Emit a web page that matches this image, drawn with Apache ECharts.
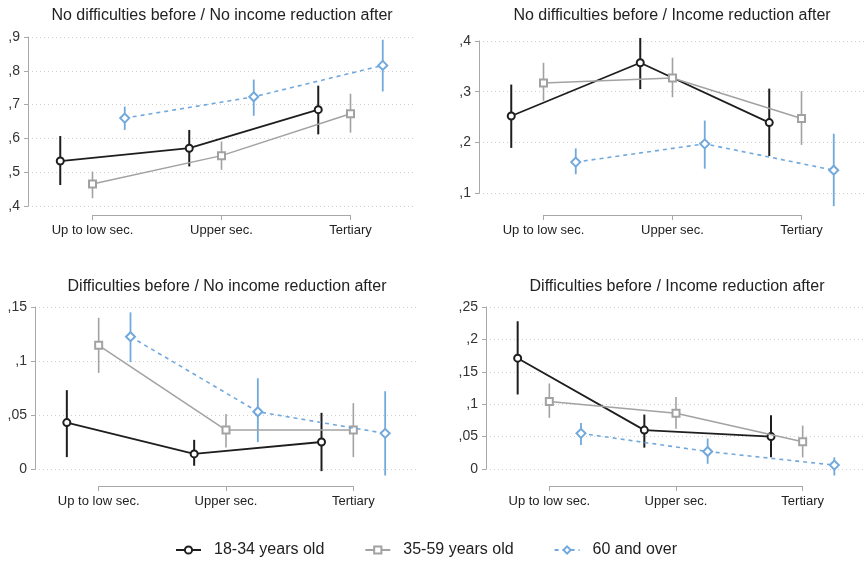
<!DOCTYPE html>
<html>
<head>
<meta charset="utf-8">
<script src="https://cdn.jsdelivr.net/npm/echarts@6/dist/echarts.min.js"></script>
<style>html,body{margin:0;padding:0;background:#fff;}#chart{width:866px;height:567px;}</style>
</head>
<body>
<div id="chart"></div>
<script>
// ---------- data ----------
const categories = ['Up to low sec.', 'Upper sec.', 'Tertiary'];
const groups = ['18-34 years old', '35-59 years old', '60 and over'];
const titles = [
  'No difficulties before / No income reduction after',
  'No difficulties before / Income reduction after',
  'Difficulties before / No income reduction after',
  'Difficulties before / Income reduction after'
];
// y-axis ticks per panel: [min, max, interval]
const yTicks1 = [0.4, 0.9, 0.1];
const yTicks2 = [0.1, 0.4, 0.1];
const yTicks3 = [0, 0.15, 0.05];
const yTicks4 = [0, 0.25, 0.05];

// Panel 1: No difficulties before / No income reduction after
const p1_young = [0.533, 0.571, 0.685];
const p1_young_lo = [0.462, 0.517, 0.612];
const p1_young_hi = [0.607, 0.625, 0.756];
const p1_mid = [0.465, 0.549, 0.673];
const p1_mid_lo = [0.423, 0.507, 0.617];
const p1_mid_hi = [0.502, 0.591, 0.732];
const p1_old = [0.660, 0.723, 0.816];
const p1_old_lo = [0.625, 0.667, 0.739];
const p1_old_hi = [0.694, 0.774, 0.892];

// Panel 2: No difficulties before / Income reduction after
const p2_young = [0.252, 0.357, 0.239];
const p2_young_lo = [0.189, 0.305, 0.173];
const p2_young_hi = [0.314, 0.406, 0.306];
const p2_mid = [0.317, 0.327, 0.247];
const p2_mid_lo = [0.282, 0.289, 0.195];
const p2_mid_hi = [0.357, 0.367, 0.301];
const p2_old = [0.161, 0.197, 0.145];
const p2_old_lo = [0.137, 0.148, 0.074];
const p2_old_hi = [0.188, 0.243, 0.217];

// Panel 3: Difficulties before / No income reduction after
const p3_young = [0.043, 0.014, 0.025];
const p3_young_lo = [0.011, 0.003, -0.002];
const p3_young_hi = [0.073, 0.027, 0.052];
const p3_mid = [0.1145, 0.036, 0.036];
const p3_mid_lo = [0.089, 0.020, 0.011];
const p3_mid_hi = [0.140, 0.051, 0.061];
const p3_old = [0.1225, 0.053, 0.033];
const p3_old_lo = [0.099, 0.025, -0.006];
const p3_old_hi = [0.145, 0.084, 0.072];

// Panel 4: Difficulties before / Income reduction after
const p4_young = [0.171, 0.060, 0.050];
const p4_young_lo = [0.115, 0.033, 0.018];
const p4_young_hi = [0.228, 0.084, 0.083];
const p4_mid = [0.104, 0.086, 0.042];
const p4_mid_lo = [0.079, 0.062, 0.018];
const p4_mid_hi = [0.132, 0.111, 0.067];
const p4_old = [0.055, 0.027, 0.006];
const p4_old_lo = [0.037, 0.008, -0.010];
const p4_old_hi = [0.071, 0.047, 0.018];

// ---------- styling / layout ----------
const FONT = 'Liberation Sans, Arial, Helvetica, sans-serif';
const W = 866;
const groupStyles = [
  { color: '#1e1e1e', symbol: 'emptyCircle', size: 7, lw: 1.8, ew: 2.0, dash: 'solid', dodge: -0.25 },
  { color: '#a2a2a2', symbol: 'emptyRect', size: 7, lw: 1.5, ew: 1.6, dash: 'solid', dodge: 0 },
  { color: '#72a9dd', symbol: 'emptyDiamond', size: 9, lw: 1.6, ew: 1.8, dash: [4, 4], dodge: 0.25 }
];
const panels = [
  { ticks: yTicks1, left: 28, right: W - 415, top: 37, height: 169, axisY: 215,
    data: [[p1_young, p1_young_lo, p1_young_hi], [p1_mid, p1_mid_lo, p1_mid_hi], [p1_old, p1_old_lo, p1_old_hi]],
    titleX: 217, titleY: 3 },
  { ticks: yTicks2, left: 479, right: 0, top: 41, height: 152, axisY: 215,
    data: [[p2_young, p2_young_lo, p2_young_hi], [p2_mid, p2_mid_lo, p2_mid_hi], [p2_old, p2_old_lo, p2_old_hi]],
    titleX: 667, titleY: 3 },
  { ticks: yTicks3, left: 35, right: W - 417, top: 307, height: 162, axisY: 486,
    data: [[p3_young, p3_young_lo, p3_young_hi], [p3_mid, p3_mid_lo, p3_mid_hi], [p3_old, p3_old_lo, p3_old_hi]],
    titleX: 222, titleY: 274 },
  { ticks: yTicks4, left: 486, right: 0, top: 307, height: 162, axisY: 486,
    data: [[p4_young, p4_young_lo, p4_young_hi], [p4_mid, p4_mid_lo, p4_mid_hi], [p4_old, p4_old_lo, p4_old_hi]],
    titleX: 672, titleY: 274 }
];

function fmtTick(v) {
  const r = Math.round(v * 1000) / 1000;
  if (r === 0) return '0';
  return String(r).replace(/^0\./, ',').replace('.', ',');
}

const option = {
  animation: false,
  backgroundColor: '#ffffff',
  title: [], grid: [], xAxis: [], yAxis: [], series: [],
  legend: {
    bottom: 4, left: 170, itemWidth: 25, itemHeight: 9, itemGap: 40,
    data: groups.map(g => ({ name: g })),
    textStyle: { fontFamily: FONT, fontSize: 16, color: '#222', padding: [0, 0, 0, 8] },
    inactiveColor: '#ccc'
  }
};

panels.forEach((p, pi) => {
  option.title.push({
    text: titles[pi], left: p.titleX, top: p.titleY, textAlign: 'center',
    textStyle: { fontFamily: FONT, fontSize: 16, fontWeight: 'normal', color: '#222' }
  });
  // main plot grid
  option.grid.push({ left: p.left, right: p.right, top: p.top, height: p.height, containLabel: false });
  const gMain = option.grid.length - 1;
  option.xAxis.push({ gridIndex: gMain, type: 'value', min: 0.5, max: 3.5, show: false });
  option.yAxis.push({
    gridIndex: gMain, type: 'value', min: p.ticks[0], max: p.ticks[1], interval: p.ticks[2],
    axisLine: { show: true, lineStyle: { color: '#a8a8a8', width: 1 } },
    axisTick: { show: true, length: 4, lineStyle: { color: '#a8a8a8' } },
    axisLabel: { formatter: fmtTick, fontFamily: FONT, fontSize: 14, color: '#333', margin: 8 },
    splitLine: { show: true, lineStyle: { color: '#cfcfcf', type: [1, 3], width: 1 } }
  });
  const axMain = option.xAxis.length - 1;
  // offset category axis grid (spans tick 1 to tick 3 only)
  const gridW = (p.right === 0 ? W : W - p.right) - p.left;
  const axLeft = p.left + gridW / 6;
  const axWidth = gridW * 2 / 3;
  option.grid.push({ left: axLeft, width: axWidth, top: p.axisY - 1, height: 1 });
  const gAx = option.grid.length - 1;
  option.xAxis.push({
    gridIndex: gAx, type: 'value', min: 1, max: 3, interval: 1, position: 'bottom',
    axisLine: { show: true, onZero: false, lineStyle: { color: '#a8a8a8', width: 1 } },
    axisTick: { show: true, length: 5, lineStyle: { color: '#a8a8a8' } },
    axisLabel: { formatter: v => categories[Math.round(v) - 1] || '', fontFamily: FONT, fontSize: 13, color: '#222', margin: 9, showMinLabel: true, showMaxLabel: true },
    splitLine: { show: false }
  });
  option.yAxis.push({ gridIndex: gAx, type: 'value', min: 0, max: 1, show: false });

  p.data.forEach((d, gi) => {
    const st = groupStyles[gi];
    const est = d[0], lo = d[1], hi = d[2];
    option.series.push({
      name: groups[gi], type: 'line', xAxisIndex: axMain, yAxisIndex: axMain,
      clip: false, z: 5 + gi,
      data: est.map((v, i) => [i + 1 + st.dodge, v]),
      symbol: st.symbol, symbolSize: st.size, showSymbol: true,
      lineStyle: { color: st.color, width: st.lw, type: st.dash },
      itemStyle: { color: st.color, borderWidth: 1.4 },
      emphasis: { disabled: true }
    });
    option.series.push({
      name: groups[gi] + ' (CI)', type: 'custom', xAxisIndex: axMain, yAxisIndex: axMain,
      clip: false, z: 2 + gi,
      data: est.map((v, i) => [i + 1 + st.dodge, lo[i], hi[i]]),
      encode: { x: 0, y: [1, 2] },
      renderItem: function (params, api) {
        const a = api.coord([api.value(0), api.value(1)]);
        const b = api.coord([api.value(0), api.value(2)]);
        return { type: 'line', shape: { x1: a[0], y1: a[1], x2: b[0], y2: b[1] },
          style: { stroke: st.color, lineWidth: st.ew } };
      }
    });
  });
});

const chart = echarts.init(document.getElementById('chart'), null, { renderer: 'canvas' });
chart.setOption(option);
</script>
</body>
</html>
